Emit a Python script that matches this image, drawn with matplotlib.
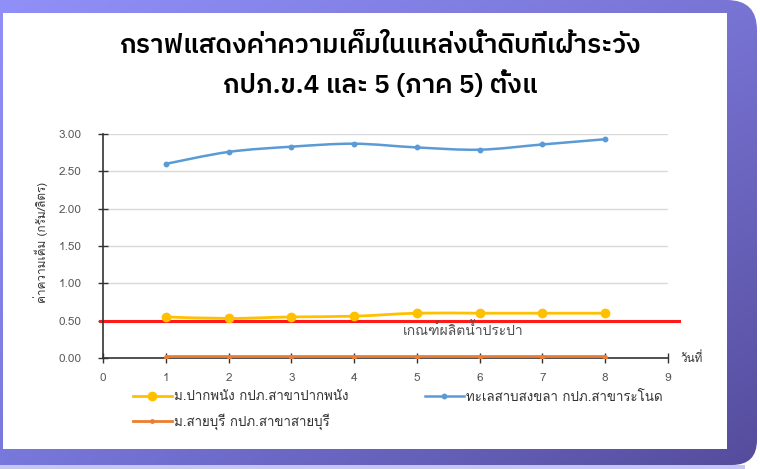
import numpy as np
import matplotlib
matplotlib.use("Agg")
import matplotlib.pyplot as plt
from matplotlib.path import Path
from matplotlib.patches import PathPatch, Rectangle
from matplotlib.lines import Line2D

plt.rcParams["font.family"] = ["Loma", "IBM Plex Sans Thai", "DejaVu Sans"]

# ---- data ----
days = [1, 2, 3, 4, 5, 6, 7, 8]
pakphanang = [0.55, 0.53, 0.55, 0.56, 0.60, 0.60, 0.60, 0.60]
songkhla_lake = [2.60, 2.76, 2.83, 2.87, 2.82, 2.79, 2.86, 2.93]
saiburi = [0.02, 0.02, 0.02, 0.02, 0.02, 0.02, 0.02, 0.02]
standard = 0.50

series_names = ["ม.ปากพนัง กปภ.สาขาปากพนัง",
                "ทะเลสาบสงขลา กปภ.สาขาระโนด",
                "ม.สายบุรี กปภ.สาขาสายบุรี"]
title_lines = ["กราฟแสดงค่าความเค็มในแหล่งน้ำดิบที่เฝ้าระวัง",
               "กปภ.ข.4 และ 5 (ภาค 5) ตั้งแ"]
ylabel = "ค่าความเค็ม (กรัม/ลิตร)"
xlabel = "วันที่"
standard_label = "เกณฑ์ผลิตน้ำประปา"
xticks = list(range(0, 10))
yticks = [0.0, 0.5, 1.0, 1.5, 2.0, 2.5, 3.0]


def smooth_path(xs, ys):
    # Excel-style smoothed line: Catmull-Rom segments as cubic Beziers
    pts = np.column_stack([xs, ys]).astype(float)
    ext = np.vstack([pts[0], pts, pts[-1]])
    verts = [pts[0]]
    codes = [Path.MOVETO]
    for i in range(len(pts) - 1):
        p0, p1, p2, p3 = ext[i], ext[i + 1], ext[i + 2], ext[i + 3]
        verts += [p1 + (p2 - p0) / 6, p2 - (p3 - p1) / 6, p2]
        codes += [Path.CURVE4] * 3
    return Path(verts, codes)


W, H = 760, 469
fig = plt.figure(figsize=(W / 100, H / 100), dpi=100)

# ---- purple frame with gradient ----
bg = fig.add_axes([0, 0, 1, 1])
bg.set_xlim(0, W)
bg.set_ylim(H, 0)
bg.axis("off")
c_tl = np.array([0x90, 0x90, 0xf8]) / 255
c_tr = np.array([0x78, 0x74, 0xd4]) / 255
c_bl = np.array([0x78, 0x78, 0xdc]) / 255
c_br = np.array([0x55, 0x4c, 0x9c]) / 255
u = np.linspace(0, 1, 200)[None, :, None]
v = np.linspace(0, 1, 120)[:, None, None]
grad = (1 - v) * ((1 - u) * c_tl + u * c_tr) + v * ((1 - u) * c_bl + u * c_br)
frame = Path([(0, 0), (727, 0), (757, 0), (757, 30), (757, 440), (757, 465),
              (732, 465), (0, 465), (0, 0)],
             [Path.MOVETO, Path.LINETO, Path.CURVE3, Path.CURVE3, Path.LINETO,
              Path.CURVE3, Path.CURVE3, Path.LINETO, Path.CLOSEPOLY])
frame_patch = PathPatch(frame, facecolor="none", edgecolor="none")
bg.add_patch(frame_patch)
im = bg.imshow(grad, extent=[0, 757, 465, 0], aspect="auto", interpolation="bilinear")
im.set_clip_path(frame_patch)
bg.add_patch(Rectangle((0, 465), 745, 4, facecolor="#c6c6f6", edgecolor="none"))
bg.add_patch(Rectangle((3, 13), 724, 436, facecolor="white", edgecolor="none"))

# ---- title ----
for i, line in enumerate(title_lines):
    fig.text(380 / W, 1 - (53 + 40 * i) / H, line, ha="center", va="baseline",
             fontsize=19, fontweight="semibold", color="black",
             family=["IBM Plex Sans Thai", "Loma", "DejaVu Sans"])

# ---- chart ----
ax = fig.add_axes([103 / W, 1 - 358 / H, 565 / W, 224 / H])
ax.set_facecolor("none")
ax.set_xlim(0, 9)
ax.set_ylim(0, 3)
ax.set_xticks(xticks)
ax.set_yticks(yticks)
ax.set_yticklabels([f"{t:.2f}" for t in yticks])
ax.grid(axis="y", color="#d9d9d9", lw=1)
ax.set_axisbelow(True)
for s in ["top", "right"]:
    ax.spines[s].set_visible(False)
for s in ["left", "bottom"]:
    ax.spines[s].set_color("#333333")
    ax.spines[s].set_linewidth(1.2)
ax.tick_params(direction="inout", length=7, width=1, color="#333333",
               labelsize=8.5, labelcolor="#595959")
ax.tick_params(axis="x", pad=7)
ax.tick_params(axis="y", pad=12)

ax.plot([-0.05, 9.17], [standard, standard], color="#ff1a1a", lw=2.2,
        clip_on=False, zorder=2)
ax.text(5.73, 0.38, standard_label, ha="center", va="center", fontsize=10,
        color="#505050")

styles = [
    dict(color="#ffc000", lw=2.0, marker="o", ms=6),
    dict(color="#5b9bd5", lw=1.8, marker="o", ms=3.2),
    dict(color="#ed7d31", lw=2.0, marker="o", ms=2.5),
]
handles = []
for ys, st in zip([pakphanang, songkhla_lake, saiburi], styles):
    ax.add_patch(PathPatch(smooth_path(days, ys), facecolor="none",
                           edgecolor=st["color"], lw=st["lw"], zorder=3))
    ax.plot(days, ys, ls="none", marker=st["marker"], ms=st["ms"],
            color=st["color"], zorder=4)
    handles.append(Line2D([], [], color=st["color"], lw=st["lw"],
                          marker=st["marker"], ms=st["ms"]))

ax.text(9.2, 0, xlabel, ha="left", va="center", fontsize=8.5, color="#333333")
fig.text(41 / W, 1 - 242 / H, ylabel, rotation=90, ha="center", va="center",
         fontsize=8.5, color="#333333")

leg_kw = dict(frameon=False, fontsize=9.6, handlelength=2.9, handletextpad=0.15,
              labelspacing=0.75, borderaxespad=0, borderpad=0)
leg1 = fig.legend([handles[0], handles[2]], [series_names[0], series_names[2]],
                  loc="upper left", bbox_to_anchor=(133 / W, 1 - 391 / H), **leg_kw)
for t in leg1.get_texts():
    t.set_color("#333333")
leg2 = fig.legend([handles[1]], [series_names[1]], loc="upper left",
                  bbox_to_anchor=(425 / W, 1 - 391 / H), **leg_kw)
for t in leg2.get_texts():
    t.set_color("#333333")

fig.savefig("out.png", dpi=100)
